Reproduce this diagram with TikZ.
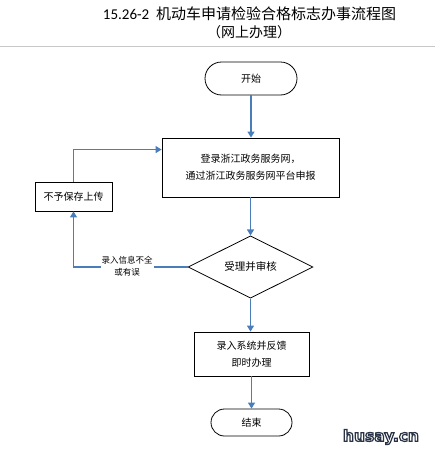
\documentclass[tikz,border=0pt]{standalone}
\usepackage{fontspec}
\setmainfont{Carlito}
\newfontfamily\cjk{Noto Sans CJK SC}
\newfontfamily\wmfont{DejaVu Sans}
\usetikzlibrary{shapes.geometric,shapes.misc,arrows.meta,calc}
\definecolor{arrblue}{RGB}{74,126,187}
\definecolor{rulegray}{RGB}{200,200,200}
\tikzset{
  boxstyle/.style={draw=black, line width=0.8pt, rectangle, inner sep=0pt, align=center, font=\cjk\fontsize{10}{17}\selectfont},
  termstyle/.style={draw=black, line width=0.8pt, rounded rectangle, inner sep=0pt, font=\cjk\fontsize{10}{12}\selectfont},
  decstyle/.style={draw=black, line width=0.8pt, diamond, inner sep=0pt, font=\cjk\fontsize{10.5}{12}\selectfont},
  arr/.style={draw=arrblue, line width=1.2pt, -{Triangle[width=7pt,length=6pt]}},
  lbl/.style={fill=white, inner sep=1pt, align=center, font=\cjk\fontsize{8.5}{12}\selectfont},
  wm/.style={font=\wmfont\bfseries\fontsize{15.5}{15}\selectfont, inner sep=0pt}
}
\newcommand{\outlinedtext}[1]{\color{white}\special{pdf:literal q 2 Tr 1.2 w 0.16 0.2 0.27 RG}#1\special{pdf:literal Q}}
\begin{document}
\begin{tikzpicture}[x=1pt,y=-1pt]
\useasboundingbox[fill=white] (0,0) rectangle (435,458);
% title
\node[font=\fontsize{15}{16}\selectfont, inner sep=0pt] (t1) at (249.5,14) {15.26-2\ \ {\cjk 机动车申请检验合格标志办事流程图}};
\node[font=\cjk\fontsize{14}{16}\selectfont, inner sep=0pt] (t2) at (249,32) {（网上办理）};
\coordinate (rl) at (0,46.5);
\coordinate (rr) at (435,46.5);
\draw[rulegray, line width=0.8pt] (rl) -- (rr);
% nodes
\node[termstyle, minimum width=92pt, minimum height=33pt] (start) at (251,78.5) {开始};
\node[boxstyle, minimum width=177pt, minimum height=59pt] (b1) at (250.5,167.5) {登录浙江政务服务网，\\通过浙江政务服务网平台申报};
\node[boxstyle, minimum width=77pt, minimum height=29pt] (left) at (73.5,196.5) {不予保存上传};
\node[decstyle, minimum width=125pt, minimum height=60pt] (dia) at (250.5,267) {受理并审核};
\node[boxstyle, minimum width=115pt, minimum height=44pt] (b3) at (251.5,354) {录入系统并反馈\\即时办理};
\node[termstyle, minimum width=81pt, minimum height=27pt] (end) at (251.5,422.5) {结束};
% connectors
\draw[arr] (start.south) -- (start.south |- b1.north);
\draw[arr] (b1.south -| dia.north) -- (dia.north);
\draw[arr] (dia.south) -- (dia.south |- b3.north);
\draw[arr] (b3.south) -- (b3.south |- end.north);
\coordinate (j1) at ($(b1.north west)!0.2!(b1.south west)$);
\draw[arr] (left.north) |- (j1);
\draw[arr] (dia.west) -| (left.south);
\node[lbl] (l1) at (127,266) {录入信息不全\\或有误};
% watermark
\node[wm] (wmark) at (381,437) {\outlinedtext{husay.cn}};
\end{tikzpicture}
\end{document}
